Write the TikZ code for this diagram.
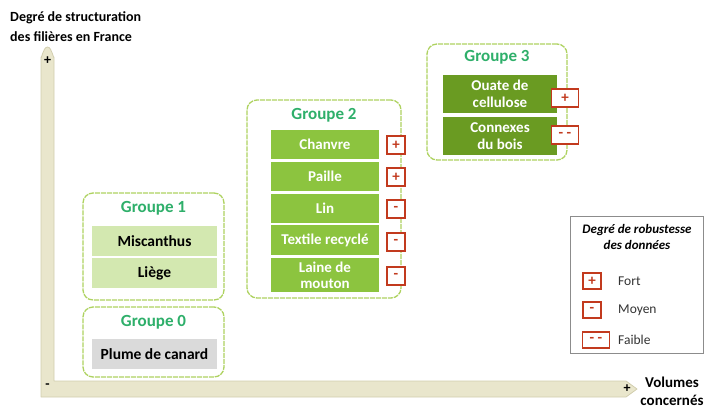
\documentclass[tikz,border=0pt]{standalone}
\usepackage{fontspec}
\setmainfont{Carlito}
\definecolor{titlegreen}{HTML}{2EAF6A}
\definecolor{itemgreen}{HTML}{8CC43F}
\definecolor{darkgreen}{HTML}{6A9B22}
\definecolor{lightgreen}{HTML}{D3E8B0}
\definecolor{greyitem}{HTML}{DADADA}
\definecolor{borderg}{HTML}{AED260}
\definecolor{markred}{HTML}{C23A1E}
\definecolor{axisfill}{HTML}{E9E6CC}
\definecolor{axisdraw}{HTML}{D2CEAE}
\begin{document}
\begin{tikzpicture}[x=1pt,y=-1pt,
  groupbox/.style={draw=borderg,line width=1.3pt,dash pattern=on 5pt off 1pt,rounded corners=10pt,fill=white},
  gtitle/.style={font=\bfseries\fontsize{17}{18}\selectfont,text=titlegreen,inner sep=0pt},
  itembox/.style={fill=itemgreen,text=white,font=\bfseries\fontsize{15}{16}\selectfont,align=center,inner sep=0pt,minimum width=108pt},
  darkitem/.style={fill=darkgreen,text=white,font=\bfseries\fontsize{15}{16.5}\selectfont,align=center,inner sep=0pt,minimum width=114pt,minimum height=38pt},
  lightitem/.style={fill=lightgreen,text=black,font=\bfseries\fontsize{15.5}{16}\selectfont,inner sep=0pt,minimum width=125pt,minimum height=30pt},
  markbox/.style={draw=markred,line width=1.5pt,fill=white,text=markred,font=\bfseries\fontsize{15}{15}\selectfont,inner sep=0pt,minimum width=18pt,minimum height=18pt},
  widemark/.style={markbox,minimum width=27pt},
  axislabel/.style={font=\bfseries\fontsize{14}{20}\selectfont,align=left,inner sep=0pt},
  legendtext/.style={font=\fontsize{13.5}{14}\selectfont,anchor=west,inner sep=0pt,text=black!80}
]
\useasboundingbox (0,0) rectangle (712,408);
% axes
\draw[fill=axisfill,draw=axisdraw,line width=0.8pt,line join=round]
  (41,397) -- (41,57) to[out=-90,in=180] (47.5,47) to[out=0,in=-90] (54,57) -- (54,381) -- (626,381) -- (637,389) -- (626,397) -- cycle;
\node[font=\bfseries\fontsize{14}{14}\selectfont,inner sep=0pt] (yplus) at (47.5,61) {+};
\node[font=\bfseries\fontsize{14}{14}\selectfont,inner sep=0pt] (xplus) at (627,389) {+};
\node[font=\bfseries\fontsize{14}{14}\selectfont,inner sep=0pt] (origin) at (47.5,386) {-};
\node[axislabel,anchor=north west] (ylab) at (10,11) {Degré de structuration\\des filières en France};
\node[axislabel,align=center,font=\bfseries\fontsize{15}{18}\selectfont] (xlab) at (672,391) {Volumes\\concernés};
% group 0
\node[groupbox,minimum width=141pt,minimum height=70pt] (g0) at (153.5,342) {};
\node[gtitle] (g0t) at (153.5,322) {Groupe 0};
\node[lightitem,fill=greyitem] (plume) at (154.5,354) {Plume de canard};
% group 1
\node[groupbox,minimum width=141pt,minimum height=107pt] (g1) at (153.5,246.5) {};
\node[gtitle] (g1t) at (153.5,208) {Groupe 1};
\node[lightitem] (misc) at (154.5,241) {Miscanthus};
\node[lightitem] (liege) at (154.5,273) {Liège};
% group 2
\node[groupbox,minimum width=154pt,minimum height=198pt] (g2) at (324,199) {};
\node[gtitle] (g2t) at (324,115) {Groupe 2};
\node[itembox,minimum height=29pt] (chanvre) at (325,144) {Chanvre};
\node[itembox,minimum height=29pt] (paille) at (325,176) {Paille};
\node[itembox,minimum height=29pt] (lin) at (325,208) {Lin};
\node[itembox,minimum height=30pt] (textile) at (325,240) {Textile recyclé};
\node[itembox,minimum height=34pt] (laine) at (325,275) {Laine de\\mouton};
\node[markbox] (m1) at (396,145) {+};
\node[markbox] (m2) at (396,177) {+};
\node[markbox] (m3) at (396,209) {-};
\node[markbox] (m4) at (396,242) {-};
\node[markbox] (m5) at (396,276) {-};
% group 3
\node[groupbox,minimum width=140pt,minimum height=116pt] (g3) at (497,102) {};
\node[gtitle] (g3t) at (497,57) {Groupe 3};
\node[darkitem] (ouate) at (500,94) {Ouate de\\cellulose};
\node[darkitem] (connexes) at (500,136) {Connexes\\du bois};
\node[widemark] (m6) at (565,98) {+};
\node[widemark] (m7) at (565,135) {- -};
% legend
\node[draw=black!45,line width=0.6pt,fill=white,minimum width=133pt,minimum height=137pt,inner sep=0pt] (legend) at (636.5,284.5) {};
\node[font=\bfseries\itshape\fontsize{13}{15.5}\selectfont,align=center,inner sep=0pt] (legt) at (637,237) {Degré de robustesse\\des données};
\node[markbox,minimum height=16pt] (lm1) at (592,281) {+};
\node[markbox,minimum height=16pt] (lm2) at (592,310) {-};
\node[widemark,minimum height=16pt] (lm3) at (596,340) {- -};
\node[legendtext] (lt1) at (618,281) {Fort};
\node[legendtext] (lt2) at (618,310) {Moyen};
\node[legendtext] (lt3) at (618,340) {Faible};
\end{tikzpicture}
\end{document}
